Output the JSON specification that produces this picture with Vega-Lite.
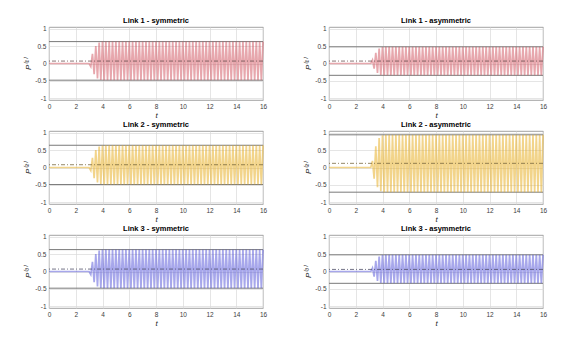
{
"$schema": "https://vega.github.io/schema/vega-lite/v6.json",
"background": "white",
"padding": {"left": 24, "top": 16, "right": 5, "bottom": 5},
"config": {
 "font": "Liberation Sans",
 "view": {"stroke": "#8c8c8c", "strokeWidth": 0.8},
 "axis": {"domain": false, "ticks": false, "grid": true, "gridColor": "#dadada", "gridWidth": 0.7, "labelFontSize": 6.5, "labelColor": "#404040", "labelPadding": 3, "labelOverlap": false, "titleFontSize": 8, "titleFontStyle": "italic", "titleFontWeight": "normal", "titleColor": "#262626", "titlePadding": 2},
 "title": {"fontSize": 7.5, "fontWeight": "bold", "color": "#000000", "offset": 1}
},
"datasets": {
 "ref": [
  {"p": "1s", "u": 0.63, "l": -0.48, "m": 0.07},
  {"p": "1a", "u": 0.48, "l": -0.34, "m": 0.07},
  {"p": "2s", "u": 0.64, "l": -0.49, "m": 0.08},
  {"p": "2a", "u": 0.94, "l": -0.71, "m": 0.12},
  {"p": "3s", "u": 0.63, "l": -0.48, "m": 0.07},
  {"p": "3a", "u": 0.48, "l": -0.34, "m": 0.06}
 ],
 "sig": [
  {"t":0,"a":0,"b":0,"c":0,"d":0,"e":0,"f":0},
  {"t":3,"a":0,"b":0,"c":0,"d":0,"e":0,"f":0},
  {"t":3.125,"a":-0.09,"b":0,"c":-0.09,"d":0,"e":-0.09,"f":0},
  {"t":3.25,"a":0.28,"b":0.1,"c":0.28,"d":0.19,"e":0.28,"f":0.1},
  {"t":3.375,"a":-0.31,"b":-0.15,"c":-0.31,"d":-0.32,"e":-0.31,"f":-0.15},
  {"t":3.5,"a":0.5,"b":0.31,"c":0.5,"d":0.61,"e":0.5,"f":0.31},
  {"t":3.625,"a":-0.43,"b":-0.27,"c":-0.43,"d":-0.57,"e":-0.43,"f":-0.27},
  {"t":3.75,"a":0.6,"b":0.43,"c":0.6,"d":0.85,"e":0.6,"f":0.43},
  {"t":3.875,"a":-0.475,"b":-0.33,"c":-0.475,"d":-0.68,"e":-0.475,"f":-0.33},
  {"t":4,"a":0.63,"b":0.475,"c":0.63,"d":0.93,"e":0.63,"f":0.475},
  {"t":4.125,"a":-0.48,"b":-0.34,"c":-0.49,"d":-0.71,"e":-0.48,"f":-0.34},
  {"t":4.25,"a":0.63,"b":0.48,"c":0.64,"d":0.94,"e":0.63,"f":0.48},
  {"t":4.375,"a":-0.48,"b":-0.34,"c":-0.49,"d":-0.71,"e":-0.48,"f":-0.34},
  {"t":4.5,"a":0.63,"b":0.48,"c":0.64,"d":0.94,"e":0.63,"f":0.48},
  {"t":4.625,"a":-0.48,"b":-0.34,"c":-0.49,"d":-0.71,"e":-0.48,"f":-0.34},
  {"t":4.75,"a":0.63,"b":0.48,"c":0.64,"d":0.94,"e":0.63,"f":0.48},
  {"t":4.875,"a":-0.48,"b":-0.34,"c":-0.49,"d":-0.71,"e":-0.48,"f":-0.34},
  {"t":5,"a":0.63,"b":0.48,"c":0.64,"d":0.94,"e":0.63,"f":0.48},
  {"t":5.125,"a":-0.48,"b":-0.34,"c":-0.49,"d":-0.71,"e":-0.48,"f":-0.34},
  {"t":5.25,"a":0.63,"b":0.48,"c":0.64,"d":0.94,"e":0.63,"f":0.48},
  {"t":5.375,"a":-0.48,"b":-0.34,"c":-0.49,"d":-0.71,"e":-0.48,"f":-0.34},
  {"t":5.5,"a":0.63,"b":0.48,"c":0.64,"d":0.94,"e":0.63,"f":0.48},
  {"t":5.625,"a":-0.48,"b":-0.34,"c":-0.49,"d":-0.71,"e":-0.48,"f":-0.34},
  {"t":5.75,"a":0.63,"b":0.48,"c":0.64,"d":0.94,"e":0.63,"f":0.48},
  {"t":5.875,"a":-0.48,"b":-0.34,"c":-0.49,"d":-0.71,"e":-0.48,"f":-0.34},
  {"t":6,"a":0.63,"b":0.48,"c":0.64,"d":0.94,"e":0.63,"f":0.48},
  {"t":6.125,"a":-0.48,"b":-0.34,"c":-0.49,"d":-0.71,"e":-0.48,"f":-0.34},
  {"t":6.25,"a":0.63,"b":0.48,"c":0.64,"d":0.94,"e":0.63,"f":0.48},
  {"t":6.375,"a":-0.48,"b":-0.34,"c":-0.49,"d":-0.71,"e":-0.48,"f":-0.34},
  {"t":6.5,"a":0.63,"b":0.48,"c":0.64,"d":0.94,"e":0.63,"f":0.48},
  {"t":6.625,"a":-0.48,"b":-0.34,"c":-0.49,"d":-0.71,"e":-0.48,"f":-0.34},
  {"t":6.75,"a":0.63,"b":0.48,"c":0.64,"d":0.94,"e":0.63,"f":0.48},
  {"t":6.875,"a":-0.48,"b":-0.34,"c":-0.49,"d":-0.71,"e":-0.48,"f":-0.34},
  {"t":7,"a":0.63,"b":0.48,"c":0.64,"d":0.94,"e":0.63,"f":0.48},
  {"t":7.125,"a":-0.48,"b":-0.34,"c":-0.49,"d":-0.71,"e":-0.48,"f":-0.34},
  {"t":7.25,"a":0.63,"b":0.48,"c":0.64,"d":0.94,"e":0.63,"f":0.48},
  {"t":7.375,"a":-0.48,"b":-0.34,"c":-0.49,"d":-0.71,"e":-0.48,"f":-0.34},
  {"t":7.5,"a":0.63,"b":0.48,"c":0.64,"d":0.94,"e":0.63,"f":0.48},
  {"t":7.625,"a":-0.48,"b":-0.34,"c":-0.49,"d":-0.71,"e":-0.48,"f":-0.34},
  {"t":7.75,"a":0.63,"b":0.48,"c":0.64,"d":0.94,"e":0.63,"f":0.48},
  {"t":7.875,"a":-0.48,"b":-0.34,"c":-0.49,"d":-0.71,"e":-0.48,"f":-0.34},
  {"t":8,"a":0.63,"b":0.48,"c":0.64,"d":0.94,"e":0.63,"f":0.48},
  {"t":8.125,"a":-0.48,"b":-0.34,"c":-0.49,"d":-0.71,"e":-0.48,"f":-0.34},
  {"t":8.25,"a":0.63,"b":0.48,"c":0.64,"d":0.94,"e":0.63,"f":0.48},
  {"t":8.375,"a":-0.48,"b":-0.34,"c":-0.49,"d":-0.71,"e":-0.48,"f":-0.34},
  {"t":8.5,"a":0.63,"b":0.48,"c":0.64,"d":0.94,"e":0.63,"f":0.48},
  {"t":8.625,"a":-0.48,"b":-0.34,"c":-0.49,"d":-0.71,"e":-0.48,"f":-0.34},
  {"t":8.75,"a":0.63,"b":0.48,"c":0.64,"d":0.94,"e":0.63,"f":0.48},
  {"t":8.875,"a":-0.48,"b":-0.34,"c":-0.49,"d":-0.71,"e":-0.48,"f":-0.34},
  {"t":9,"a":0.63,"b":0.48,"c":0.64,"d":0.94,"e":0.63,"f":0.48},
  {"t":9.125,"a":-0.48,"b":-0.34,"c":-0.49,"d":-0.71,"e":-0.48,"f":-0.34},
  {"t":9.25,"a":0.63,"b":0.48,"c":0.64,"d":0.94,"e":0.63,"f":0.48},
  {"t":9.375,"a":-0.48,"b":-0.34,"c":-0.49,"d":-0.71,"e":-0.48,"f":-0.34},
  {"t":9.5,"a":0.63,"b":0.48,"c":0.64,"d":0.94,"e":0.63,"f":0.48},
  {"t":9.625,"a":-0.48,"b":-0.34,"c":-0.49,"d":-0.71,"e":-0.48,"f":-0.34},
  {"t":9.75,"a":0.63,"b":0.48,"c":0.64,"d":0.94,"e":0.63,"f":0.48},
  {"t":9.875,"a":-0.48,"b":-0.34,"c":-0.49,"d":-0.71,"e":-0.48,"f":-0.34},
  {"t":10,"a":0.63,"b":0.48,"c":0.64,"d":0.94,"e":0.63,"f":0.48},
  {"t":10.125,"a":-0.48,"b":-0.34,"c":-0.49,"d":-0.71,"e":-0.48,"f":-0.34},
  {"t":10.25,"a":0.63,"b":0.48,"c":0.64,"d":0.94,"e":0.63,"f":0.48},
  {"t":10.375,"a":-0.48,"b":-0.34,"c":-0.49,"d":-0.71,"e":-0.48,"f":-0.34},
  {"t":10.5,"a":0.63,"b":0.48,"c":0.64,"d":0.94,"e":0.63,"f":0.48},
  {"t":10.625,"a":-0.48,"b":-0.34,"c":-0.49,"d":-0.71,"e":-0.48,"f":-0.34},
  {"t":10.75,"a":0.63,"b":0.48,"c":0.64,"d":0.94,"e":0.63,"f":0.48},
  {"t":10.875,"a":-0.48,"b":-0.34,"c":-0.49,"d":-0.71,"e":-0.48,"f":-0.34},
  {"t":11,"a":0.63,"b":0.48,"c":0.64,"d":0.94,"e":0.63,"f":0.48},
  {"t":11.125,"a":-0.48,"b":-0.34,"c":-0.49,"d":-0.71,"e":-0.48,"f":-0.34},
  {"t":11.25,"a":0.63,"b":0.48,"c":0.64,"d":0.94,"e":0.63,"f":0.48},
  {"t":11.375,"a":-0.48,"b":-0.34,"c":-0.49,"d":-0.71,"e":-0.48,"f":-0.34},
  {"t":11.5,"a":0.63,"b":0.48,"c":0.64,"d":0.94,"e":0.63,"f":0.48},
  {"t":11.625,"a":-0.48,"b":-0.34,"c":-0.49,"d":-0.71,"e":-0.48,"f":-0.34},
  {"t":11.75,"a":0.63,"b":0.48,"c":0.64,"d":0.94,"e":0.63,"f":0.48},
  {"t":11.875,"a":-0.48,"b":-0.34,"c":-0.49,"d":-0.71,"e":-0.48,"f":-0.34},
  {"t":12,"a":0.63,"b":0.48,"c":0.64,"d":0.94,"e":0.63,"f":0.48},
  {"t":12.125,"a":-0.48,"b":-0.34,"c":-0.49,"d":-0.71,"e":-0.48,"f":-0.34},
  {"t":12.25,"a":0.63,"b":0.48,"c":0.64,"d":0.94,"e":0.63,"f":0.48},
  {"t":12.375,"a":-0.48,"b":-0.34,"c":-0.49,"d":-0.71,"e":-0.48,"f":-0.34},
  {"t":12.5,"a":0.63,"b":0.48,"c":0.64,"d":0.94,"e":0.63,"f":0.48},
  {"t":12.625,"a":-0.48,"b":-0.34,"c":-0.49,"d":-0.71,"e":-0.48,"f":-0.34},
  {"t":12.75,"a":0.63,"b":0.48,"c":0.64,"d":0.94,"e":0.63,"f":0.48},
  {"t":12.875,"a":-0.48,"b":-0.34,"c":-0.49,"d":-0.71,"e":-0.48,"f":-0.34},
  {"t":13,"a":0.63,"b":0.48,"c":0.64,"d":0.94,"e":0.63,"f":0.48},
  {"t":13.125,"a":-0.48,"b":-0.34,"c":-0.49,"d":-0.71,"e":-0.48,"f":-0.34},
  {"t":13.25,"a":0.63,"b":0.48,"c":0.64,"d":0.94,"e":0.63,"f":0.48},
  {"t":13.375,"a":-0.48,"b":-0.34,"c":-0.49,"d":-0.71,"e":-0.48,"f":-0.34},
  {"t":13.5,"a":0.63,"b":0.48,"c":0.64,"d":0.94,"e":0.63,"f":0.48},
  {"t":13.625,"a":-0.48,"b":-0.34,"c":-0.49,"d":-0.71,"e":-0.48,"f":-0.34},
  {"t":13.75,"a":0.63,"b":0.48,"c":0.64,"d":0.94,"e":0.63,"f":0.48},
  {"t":13.875,"a":-0.48,"b":-0.34,"c":-0.49,"d":-0.71,"e":-0.48,"f":-0.34},
  {"t":14,"a":0.63,"b":0.48,"c":0.64,"d":0.94,"e":0.63,"f":0.48},
  {"t":14.125,"a":-0.48,"b":-0.34,"c":-0.49,"d":-0.71,"e":-0.48,"f":-0.34},
  {"t":14.25,"a":0.63,"b":0.48,"c":0.64,"d":0.94,"e":0.63,"f":0.48},
  {"t":14.375,"a":-0.48,"b":-0.34,"c":-0.49,"d":-0.71,"e":-0.48,"f":-0.34},
  {"t":14.5,"a":0.63,"b":0.48,"c":0.64,"d":0.94,"e":0.63,"f":0.48},
  {"t":14.625,"a":-0.48,"b":-0.34,"c":-0.49,"d":-0.71,"e":-0.48,"f":-0.34},
  {"t":14.75,"a":0.63,"b":0.48,"c":0.64,"d":0.94,"e":0.63,"f":0.48},
  {"t":14.875,"a":-0.48,"b":-0.34,"c":-0.49,"d":-0.71,"e":-0.48,"f":-0.34},
  {"t":15,"a":0.63,"b":0.48,"c":0.64,"d":0.94,"e":0.63,"f":0.48},
  {"t":15.125,"a":-0.48,"b":-0.34,"c":-0.49,"d":-0.71,"e":-0.48,"f":-0.34},
  {"t":15.25,"a":0.63,"b":0.48,"c":0.64,"d":0.94,"e":0.63,"f":0.48},
  {"t":15.375,"a":-0.48,"b":-0.34,"c":-0.49,"d":-0.71,"e":-0.48,"f":-0.34},
  {"t":15.5,"a":0.63,"b":0.48,"c":0.64,"d":0.94,"e":0.63,"f":0.48},
  {"t":15.625,"a":-0.48,"b":-0.34,"c":-0.49,"d":-0.71,"e":-0.48,"f":-0.34},
  {"t":15.75,"a":0.63,"b":0.48,"c":0.64,"d":0.94,"e":0.63,"f":0.48},
  {"t":15.875,"a":-0.48,"b":-0.34,"c":-0.49,"d":-0.71,"e":-0.48,"f":-0.34},
  {"t":16,"a":0.63,"b":0.48,"c":0.64,"d":0.94,"e":0.63,"f":0.48}
 ]
},
"columns": 2,
"spacing": {"row": 0, "column": 36},
"concat": [
 {"title": "Link 1 - symmetric", "width": 214, "height": 73,
  "layer": [
   {"data": {"name": "ref"}, "transform": [{"filter": "datum.p == '1s'"}], "mark": {"type": "rule", "color": "#7a7a7a", "strokeWidth": 1}, "encoding": {"y": {"field": "u", "type": "quantitative", "title": "P⁽¹⁾", "scale": {"domain": [-1.05, 1.05], "nice": false}, "axis": {"values": [-1,-0.5,0,0.5,1], "labelExpr": "'' + datum.value"}}}},
   {"data": {"name": "ref"}, "transform": [{"filter": "datum.p == '1s'"}], "mark": {"type": "rule", "color": "#7a7a7a", "strokeWidth": 1}, "encoding": {"y": {"field": "l", "type": "quantitative", "title": "P⁽¹⁾", "scale": {"domain": [-1.05, 1.05], "nice": false}, "axis": {"values": [-1,-0.5,0,0.5,1], "labelExpr": "'' + datum.value"}}}},
   {"data": {"name": "sig"}, "mark": {"type": "line", "color": "#d0505c", "strokeWidth": 1.7, "opacity": 0.5}, "encoding": {
     "x": {"field": "t", "type": "quantitative", "title": "t", "scale": {"domain": [0, 16], "nice": false}, "axis": {"values": [0,2,4,6,8,10,12,14,16], "labelFlush": false}},
     "y": {"field": "a", "type": "quantitative", "title": "P⁽¹⁾", "scale": {"domain": [-1.05, 1.05], "nice": false}, "axis": {"values": [-1,-0.5,0,0.5,1], "labelExpr": "'' + datum.value"}}}},
   {"data": {"name": "ref"}, "transform": [{"filter": "datum.p == '1s'"}], "mark": {"type": "rule", "color": "#6a5050", "strokeWidth": 0.8, "strokeDash": [4, 2, 1, 2]}, "encoding": {"y": {"field": "m", "type": "quantitative", "title": "P⁽¹⁾", "scale": {"domain": [-1.05, 1.05], "nice": false}, "axis": {"values": [-1,-0.5,0,0.5,1], "labelExpr": "'' + datum.value"}}}}
  ]},
 {"title": "Link 1 - asymmetric", "width": 214, "height": 73,
  "layer": [
   {"data": {"name": "ref"}, "transform": [{"filter": "datum.p == '1a'"}], "mark": {"type": "rule", "color": "#7a7a7a", "strokeWidth": 1}, "encoding": {"y": {"field": "u", "type": "quantitative", "title": "P⁽¹⁾", "scale": {"domain": [-1.05, 1.05], "nice": false}, "axis": {"values": [-1,-0.5,0,0.5,1], "labelExpr": "'' + datum.value"}}}},
   {"data": {"name": "ref"}, "transform": [{"filter": "datum.p == '1a'"}], "mark": {"type": "rule", "color": "#7a7a7a", "strokeWidth": 1}, "encoding": {"y": {"field": "l", "type": "quantitative", "title": "P⁽¹⁾", "scale": {"domain": [-1.05, 1.05], "nice": false}, "axis": {"values": [-1,-0.5,0,0.5,1], "labelExpr": "'' + datum.value"}}}},
   {"data": {"name": "sig"}, "mark": {"type": "line", "color": "#d0505c", "strokeWidth": 1.7, "opacity": 0.5}, "encoding": {
     "x": {"field": "t", "type": "quantitative", "title": "t", "scale": {"domain": [0, 16], "nice": false}, "axis": {"values": [0,2,4,6,8,10,12,14,16], "labelFlush": false}},
     "y": {"field": "b", "type": "quantitative", "title": "P⁽¹⁾", "scale": {"domain": [-1.05, 1.05], "nice": false}, "axis": {"values": [-1,-0.5,0,0.5,1], "labelExpr": "'' + datum.value"}}}},
   {"data": {"name": "ref"}, "transform": [{"filter": "datum.p == '1a'"}], "mark": {"type": "rule", "color": "#6a5050", "strokeWidth": 0.8, "strokeDash": [4, 2, 1, 2]}, "encoding": {"y": {"field": "m", "type": "quantitative", "title": "P⁽¹⁾", "scale": {"domain": [-1.05, 1.05], "nice": false}, "axis": {"values": [-1,-0.5,0,0.5,1], "labelExpr": "'' + datum.value"}}}}
  ]},
 {"title": "Link 2 - symmetric", "width": 214, "height": 73,
  "layer": [
   {"data": {"name": "ref"}, "transform": [{"filter": "datum.p == '2s'"}], "mark": {"type": "rule", "color": "#7a7a7a", "strokeWidth": 1}, "encoding": {"y": {"field": "u", "type": "quantitative", "title": "P⁽²⁾", "scale": {"domain": [-1.05, 1.05], "nice": false}, "axis": {"values": [-1,-0.5,0,0.5,1], "labelExpr": "'' + datum.value"}}}},
   {"data": {"name": "ref"}, "transform": [{"filter": "datum.p == '2s'"}], "mark": {"type": "rule", "color": "#7a7a7a", "strokeWidth": 1}, "encoding": {"y": {"field": "l", "type": "quantitative", "title": "P⁽²⁾", "scale": {"domain": [-1.05, 1.05], "nice": false}, "axis": {"values": [-1,-0.5,0,0.5,1], "labelExpr": "'' + datum.value"}}}},
   {"data": {"name": "sig"}, "mark": {"type": "line", "color": "#e8b02a", "strokeWidth": 1.7, "opacity": 0.55}, "encoding": {
     "x": {"field": "t", "type": "quantitative", "title": "t", "scale": {"domain": [0, 16], "nice": false}, "axis": {"values": [0,2,4,6,8,10,12,14,16], "labelFlush": false}},
     "y": {"field": "c", "type": "quantitative", "title": "P⁽²⁾", "scale": {"domain": [-1.05, 1.05], "nice": false}, "axis": {"values": [-1,-0.5,0,0.5,1], "labelExpr": "'' + datum.value"}}}},
   {"data": {"name": "ref"}, "transform": [{"filter": "datum.p == '2s'"}], "mark": {"type": "rule", "color": "#7a6a40", "strokeWidth": 0.8, "strokeDash": [4, 2, 1, 2]}, "encoding": {"y": {"field": "m", "type": "quantitative", "title": "P⁽²⁾", "scale": {"domain": [-1.05, 1.05], "nice": false}, "axis": {"values": [-1,-0.5,0,0.5,1], "labelExpr": "'' + datum.value"}}}}
  ]},
 {"title": "Link 2 - asymmetric", "width": 214, "height": 73,
  "layer": [
   {"data": {"name": "ref"}, "transform": [{"filter": "datum.p == '2a'"}], "mark": {"type": "rule", "color": "#7a7a7a", "strokeWidth": 1}, "encoding": {"y": {"field": "u", "type": "quantitative", "title": "P⁽²⁾", "scale": {"domain": [-1.05, 1.05], "nice": false}, "axis": {"values": [-1,-0.5,0,0.5,1], "labelExpr": "'' + datum.value"}}}},
   {"data": {"name": "ref"}, "transform": [{"filter": "datum.p == '2a'"}], "mark": {"type": "rule", "color": "#7a7a7a", "strokeWidth": 1}, "encoding": {"y": {"field": "l", "type": "quantitative", "title": "P⁽²⁾", "scale": {"domain": [-1.05, 1.05], "nice": false}, "axis": {"values": [-1,-0.5,0,0.5,1], "labelExpr": "'' + datum.value"}}}},
   {"data": {"name": "sig"}, "mark": {"type": "line", "color": "#e8b02a", "strokeWidth": 1.7, "opacity": 0.55}, "encoding": {
     "x": {"field": "t", "type": "quantitative", "title": "t", "scale": {"domain": [0, 16], "nice": false}, "axis": {"values": [0,2,4,6,8,10,12,14,16], "labelFlush": false}},
     "y": {"field": "d", "type": "quantitative", "title": "P⁽²⁾", "scale": {"domain": [-1.05, 1.05], "nice": false}, "axis": {"values": [-1,-0.5,0,0.5,1], "labelExpr": "'' + datum.value"}}}},
   {"data": {"name": "ref"}, "transform": [{"filter": "datum.p == '2a'"}], "mark": {"type": "rule", "color": "#7a6a40", "strokeWidth": 0.8, "strokeDash": [4, 2, 1, 2]}, "encoding": {"y": {"field": "m", "type": "quantitative", "title": "P⁽²⁾", "scale": {"domain": [-1.05, 1.05], "nice": false}, "axis": {"values": [-1,-0.5,0,0.5,1], "labelExpr": "'' + datum.value"}}}}
  ]},
 {"title": "Link 3 - symmetric", "width": 214, "height": 73,
  "layer": [
   {"data": {"name": "ref"}, "transform": [{"filter": "datum.p == '3s'"}], "mark": {"type": "rule", "color": "#7a7a7a", "strokeWidth": 1}, "encoding": {"y": {"field": "u", "type": "quantitative", "title": "P⁽³⁾", "scale": {"domain": [-1.05, 1.05], "nice": false}, "axis": {"values": [-1,-0.5,0,0.5,1], "labelExpr": "'' + datum.value"}}}},
   {"data": {"name": "ref"}, "transform": [{"filter": "datum.p == '3s'"}], "mark": {"type": "rule", "color": "#7a7a7a", "strokeWidth": 1}, "encoding": {"y": {"field": "l", "type": "quantitative", "title": "P⁽³⁾", "scale": {"domain": [-1.05, 1.05], "nice": false}, "axis": {"values": [-1,-0.5,0,0.5,1], "labelExpr": "'' + datum.value"}}}},
   {"data": {"name": "sig"}, "mark": {"type": "line", "color": "#5050d8", "strokeWidth": 1.7, "opacity": 0.5}, "encoding": {
     "x": {"field": "t", "type": "quantitative", "title": "t", "scale": {"domain": [0, 16], "nice": false}, "axis": {"values": [0,2,4,6,8,10,12,14,16], "labelFlush": false}},
     "y": {"field": "e", "type": "quantitative", "title": "P⁽³⁾", "scale": {"domain": [-1.05, 1.05], "nice": false}, "axis": {"values": [-1,-0.5,0,0.5,1], "labelExpr": "'' + datum.value"}}}},
   {"data": {"name": "ref"}, "transform": [{"filter": "datum.p == '3s'"}], "mark": {"type": "rule", "color": "#50506a", "strokeWidth": 0.8, "strokeDash": [4, 2, 1, 2]}, "encoding": {"y": {"field": "m", "type": "quantitative", "title": "P⁽³⁾", "scale": {"domain": [-1.05, 1.05], "nice": false}, "axis": {"values": [-1,-0.5,0,0.5,1], "labelExpr": "'' + datum.value"}}}}
  ]},
 {"title": "Link 3 - asymmetric", "width": 214, "height": 73,
  "layer": [
   {"data": {"name": "ref"}, "transform": [{"filter": "datum.p == '3a'"}], "mark": {"type": "rule", "color": "#7a7a7a", "strokeWidth": 1}, "encoding": {"y": {"field": "u", "type": "quantitative", "title": "P⁽³⁾", "scale": {"domain": [-1.05, 1.05], "nice": false}, "axis": {"values": [-1,-0.5,0,0.5,1], "labelExpr": "'' + datum.value"}}}},
   {"data": {"name": "ref"}, "transform": [{"filter": "datum.p == '3a'"}], "mark": {"type": "rule", "color": "#7a7a7a", "strokeWidth": 1}, "encoding": {"y": {"field": "l", "type": "quantitative", "title": "P⁽³⁾", "scale": {"domain": [-1.05, 1.05], "nice": false}, "axis": {"values": [-1,-0.5,0,0.5,1], "labelExpr": "'' + datum.value"}}}},
   {"data": {"name": "sig"}, "mark": {"type": "line", "color": "#5050d8", "strokeWidth": 1.7, "opacity": 0.5}, "encoding": {
     "x": {"field": "t", "type": "quantitative", "title": "t", "scale": {"domain": [0, 16], "nice": false}, "axis": {"values": [0,2,4,6,8,10,12,14,16], "labelFlush": false}},
     "y": {"field": "f", "type": "quantitative", "title": "P⁽³⁾", "scale": {"domain": [-1.05, 1.05], "nice": false}, "axis": {"values": [-1,-0.5,0,0.5,1], "labelExpr": "'' + datum.value"}}}},
   {"data": {"name": "ref"}, "transform": [{"filter": "datum.p == '3a'"}], "mark": {"type": "rule", "color": "#50506a", "strokeWidth": 0.8, "strokeDash": [4, 2, 1, 2]}, "encoding": {"y": {"field": "m", "type": "quantitative", "title": "P⁽³⁾", "scale": {"domain": [-1.05, 1.05], "nice": false}, "axis": {"values": [-1,-0.5,0,0.5,1], "labelExpr": "'' + datum.value"}}}}
  ]}
]
}
